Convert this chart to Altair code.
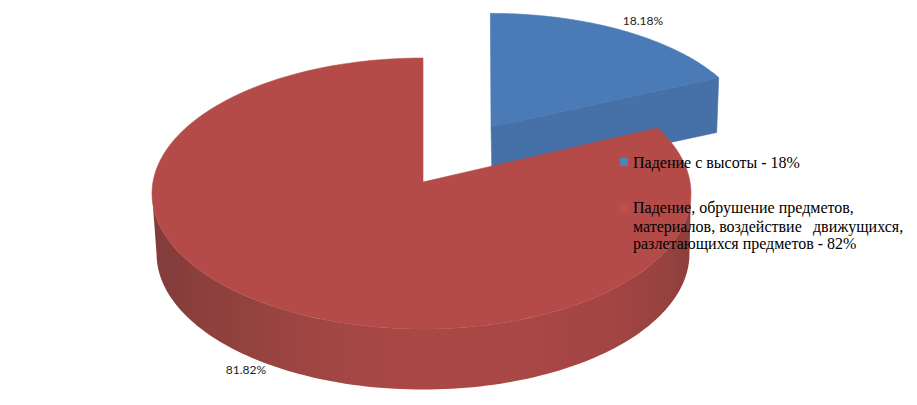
import math
import altair as alt
import pandas as pd

slices = ["Падение с высоты", "Падение, обрушение предметов"]
shares = [18.18, 81.82]
label_texts = ["18.18%", "81.82%"]
legend_lines = [
    "Падение с высоты - 18%",
    "Падение, обрушение предметов,",
    "материалов, воздействие\u00a0\u2009 движущихся,",
    "разлетающихся предметов - 82%",
]
top_colors = ["#4a7bb6", "#b44b49"]
side_color_blue = "#4671a8"
legend_swatches = ["#4f81bd", "#c0504d"]
# shade of the red wall, left to right
shade_offsets = [0.0, 0.08, 0.2, 0.35, 0.5, 0.7, 0.85, 0.95, 1.0]
shade_colors = ["#813c3a", "#8a3f3c", "#96433f", "#a34744", "#aa4845", "#a94745", "#a34543", "#974240", "#8d3e3c"]

W, H = 917, 405
CX, CY = 423, 182
RX_L, RX_R, RY, P = 270, 267, 134.5, 0.085
BX, BY = 265.5, 135
BOTTOM = 242
EXPL = (0.264, 0.425)
BLUE_SHEAR = 4.5
BLUE_SKEW = 1.5
BLUE_SQUASH = 0.98


def top(u, v):
    s = 1 / (1 + P * v)
    rx = RX_L if u < 0 else RX_R
    return CX + rx * u * s, CY - RY * v * s


def bot(u, v):
    s = 1 / (1 + P * v)
    return CX + BX * u * s, BOTTOM - BY * v * s


def rim(a):
    r = math.radians(a)
    return math.sin(r), math.cos(r)


def blue(u, v):
    ax, ay = top(*EXPL)
    x, y = top(u + EXPL[0], v + EXPL[1])
    return x + BLUE_SHEAR * v + BLUE_SKEW * u, ay + (y - ay) * BLUE_SQUASH


rows = []


def add(name, color, pts):
    for i, (x, y) in enumerate(pts):
        rows.append({"part": name, "color": color, "i": i, "x": x, "y": y})


split = shares[0] / sum(shares) * 360

# blue wall
tip = rim(split)
a, b = blue(0, 0), blue(*tip)
add("a_blue_side", side_color_blue, [a, b, (b[0] - 2, b[1] + 55), (a[0] + 1, a[1] + 54)])
# blue top
pts = [a]
for k in range(61):
    pts.append(blue(*rim(split * k / 60)))
add("b_blue_top", top_colors[0], pts)
# red wall: front rim between the two silhouette points, top edge then bottom edge
angs = [95 + 170 * k / 120 for k in range(121)]
wall = [top(*rim(q)) for q in angs] + [bot(*rim(q)) for q in reversed(angs)]
add("c_wall", "gradient", wall)
# red top
pts = [top(0, 0)]
for k in range(181):
    pts.append(top(*rim(split + (360 - split) * k / 180)))
add("d_red_top", top_colors[1], pts)

df = pd.DataFrame(rows)

x_scale = alt.Scale(domain=[8, W - 8], range=[0, W - 16], nice=False, zero=False)
y_scale = alt.Scale(domain=[8, H - 8], range=[0, H - 16], nice=False, zero=False)

wall_fill = alt.LinearGradient(
    gradient="linear", x1=0, y1=0, x2=1, y2=0,
    stops=[alt.GradientStop(offset=o, color=c) for o, c in zip(shade_offsets, shade_colors)],
)

layers = []
for name, g in df.groupby("part", sort=True):
    color = g["color"].iloc[0]
    if color == "gradient":
        mark = alt.Chart(g).mark_line(fill=wall_fill, strokeWidth=0, interpolate="linear-closed")
    else:
        mark = alt.Chart(g).mark_line(fill=color, stroke=color, strokeWidth=0.6, interpolate="linear-closed")
    layers.append(
        mark.encode(
            x=alt.X("x:Q", scale=x_scale, axis=None),
            y=alt.Y("y:Q", scale=y_scale, axis=None),
            order="i:Q",
        )
    )

sw = pd.DataFrame({"x": [624, 624], "y": [162, 208], "c": legend_swatches})
swatches = alt.Chart(sw).mark_square(size=64, opacity=1, filled=True).encode(
    x=alt.X("x:Q", scale=x_scale, axis=None),
    y=alt.Y("y:Q", scale=y_scale, axis=None),
    color=alt.Color("c:N", scale=None),
)
leg = pd.DataFrame({"x": [633, 633, 633, 633], "y": [163, 208, 227, 244], "t": legend_lines})
legend_text = alt.Chart(leg).mark_text(
    align="left", baseline="middle", font="Liberation Serif", fontSize=16, color="#000000"
).encode(
    x=alt.X("x:Q", scale=x_scale, axis=None),
    y=alt.Y("y:Q", scale=y_scale, axis=None),
    text="t:N",
)
lab = pd.DataFrame({"x": [643, 246], "y": [21, 370], "t": label_texts})
labels = alt.Chart(lab).mark_text(
    align="center", baseline="middle", font="Lato", fontSize=12, color="#222222"
).encode(
    x=alt.X("x:Q", scale=x_scale, axis=None),
    y=alt.Y("y:Q", scale=y_scale, axis=None),
    text="t:N",
)

chart = alt.layer(*layers, swatches, legend_text, labels).properties(
    width=W - 16, height=H - 16, padding=0, background="white",
    autosize=alt.AutoSizeParams(type="none"),
).configure_view(stroke=None)

chart.save("out.html", embed_options={"renderer": "svg", "actions": False})
